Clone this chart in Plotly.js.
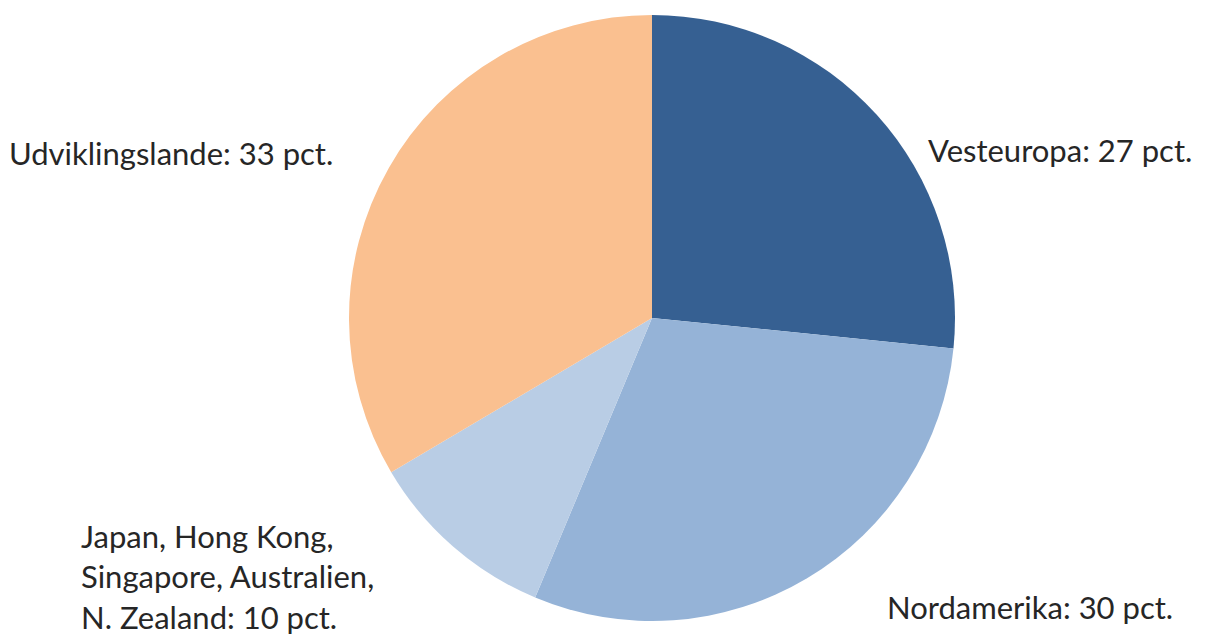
<!DOCTYPE html>
<html><head><meta charset="utf-8">
<script src="https://cdn.plot.ly/plotly-3.0.1.min.js"></script>
<style>html,body{margin:0;padding:0;background:#fff;}#chart{width:1209px;height:635px;}</style>
</head><body><div id="chart"></div>
<script>
const categories = ["Vesteuropa", "Nordamerika", "Japan, Hong Kong, Singapore, Australien, N. Zealand", "Udviklingslande"];
const shares = [26.6, 29.7, 10.2, 33.5];
const labelTexts = ["Vesteuropa: 27 pct.", "Nordamerika: 30 pct.", "Japan, Hong Kong,<br>Singapore, Australien,<br>N. Zealand: 10 pct.", "Udviklingslande: 33 pct."];
const colors = ["#366092", "#95B3D7", "#B9CDE5", "#FAC090"];

const W = 1209, H = 635;
const font = {family: "Lato, 'Open Sans', sans-serif", size: 31, color: "#262626"};
const labelPos = [
  {x: 926, y: 150},
  {x: 885, y: 607},
  {x: 79, y: 576},
  {x: 7, y: 153}
];
const annotations = labelTexts.map((t, i) => ({
  text: t, xref: "paper", yref: "paper",
  x: labelPos[i].x / W, y: 1 - labelPos[i].y / H,
  xanchor: "left", yanchor: "middle", align: "left",
  showarrow: false, font: font
}));

Plotly.newPlot("chart", [{
  type: "pie",
  labels: categories,
  values: shares,
  sort: false,
  direction: "clockwise",
  rotation: 0,
  textinfo: "none",
  hoverinfo: "label+percent",
  marker: {colors: colors, line: {width: 0}},
  domain: {x: [349 / W, 955 / W], y: [1 - 621 / H, 1 - 15 / H]}
}], {
  width: W, height: H,
  margin: {l: 0, r: 0, t: 0, b: 0},
  showlegend: false,
  paper_bgcolor: "#fff",
  annotations: annotations
}, {staticPlot: true});
</script></body></html>
